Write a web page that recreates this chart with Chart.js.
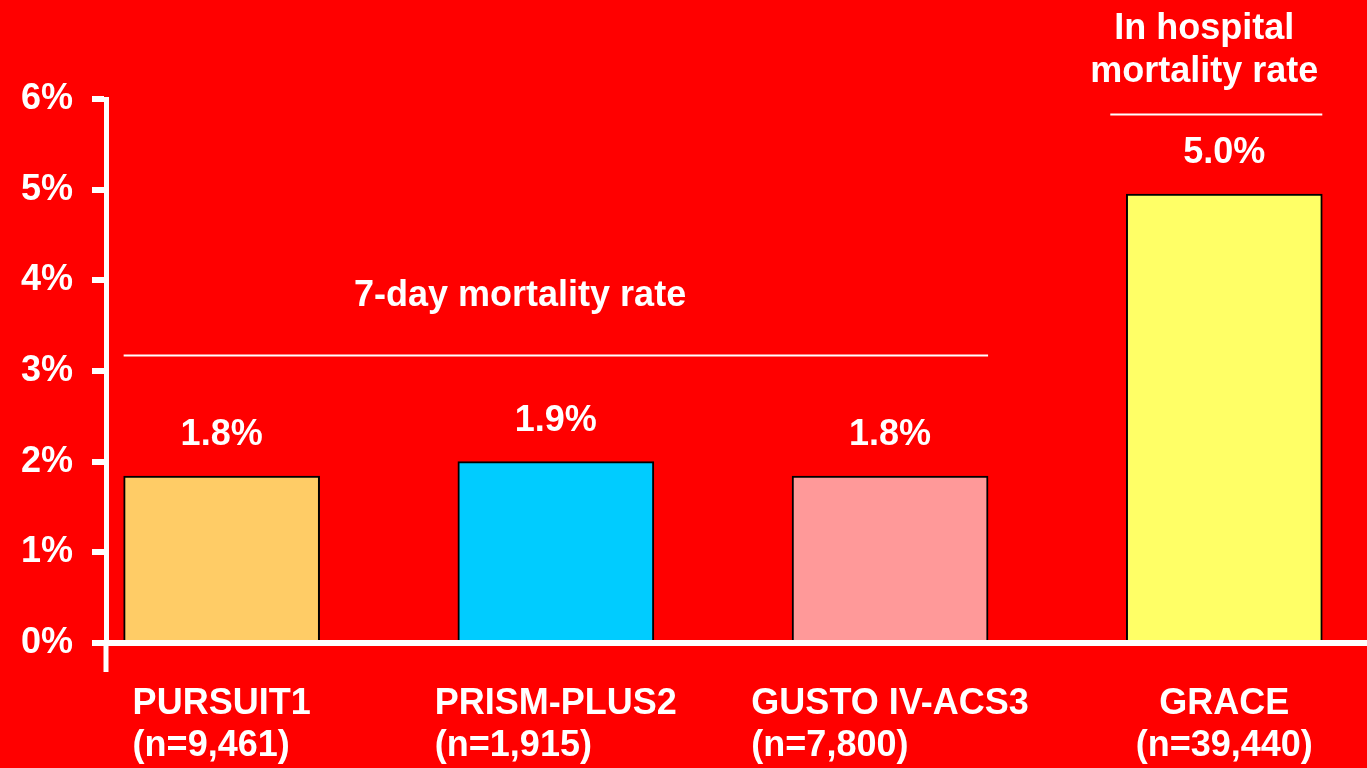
<!DOCTYPE html>
<html>
<head>
<meta charset="utf-8">
<script src="https://cdn.jsdelivr.net/npm/chart.js@4/dist/chart.umd.min.js"></script>
<style>
  html, body { margin: 0; padding: 0; background: #ff0000; }
  #wrap { width: 1367px; height: 768px; position: relative; }
</style>
</head>
<body>
<div id="wrap"><canvas id="mortalityChart"></canvas></div>
<script>
// study names and sample sizes (two-line category labels)
const studies = ['PURSUIT1', 'PRISM-PLUS2', 'GUSTO IV-ACS3', 'GRACE'];
const sampleSizes = ['(n=9,461)', '(n=1,915)', '(n=7,800)', '(n=39,440)'];
// bar heights as drawn (%)
const mortality = [1.84, 2.0, 1.84, 4.95];
// printed value labels
const rateLabels = ['1.8%', '1.9%', '1.8%', '5.0%'];
// y axis tick values (%)
const yTicks = [0, 1, 2, 3, 4, 5, 6];

const barColors = ['#ffcc66', '#00ccff', '#ff9999', '#ffff66'];
const FONT = "bold 36px 'Liberation Sans', Arial, sans-serif";
const BAR_W = 196;

// group headers and their rules, placed in data units
const headers = [
    { lines: ['7-day mortality rate'], x: 0.893, y: 3.72 },
    { lines: ['In hospital', 'mortality rate'], x: 2.94, y: 6.66 }
];
const rules = [
    { from: 0, to: 2, y: 3.18, extendLeft: 0 },
    { from: 3, to: 3, y: 5.84, extendLeft: 16 }
];

const textPlugin = {
    id: 'slideText',
    afterDraw(chart) {
        const c = chart.ctx;
        const xs = chart.scales.x, ys = chart.scales.y;
        const area = chart.chartArea;
        c.save();
        c.fillStyle = '#fff';
        c.strokeStyle = '#fff';

        // y axis runs a bit below the baseline
        c.lineWidth = 5;
        c.beginPath();
        c.moveTo(area.left, area.bottom);
        c.lineTo(area.left, area.bottom + 29);
        c.stroke();

        // thin rules under the group headers
        c.lineWidth = 2;
        rules.forEach(function(r) {
            const x1 = xs.getPixelForValue(r.from) - BAR_W / 2 - r.extendLeft;
            const x2 = xs.getPixelForValue(r.to) + BAR_W / 2;
            const y = Math.round(ys.getPixelForValue(r.y)) + 0.5;
            c.beginPath();
            c.moveTo(x1, y);
            c.lineTo(x2, y);
            c.stroke();
        });

        c.font = FONT;
        c.textBaseline = 'alphabetic';

        headers.forEach(function(h) {
            c.textAlign = 'center';
            const x = xs.getPixelForValue(h.x);
            const y0 = ys.getPixelForValue(h.y);
            h.lines.forEach(function(t, k) {
                c.fillText(t, x, y0 + k * 43);
            });
        });

        // value labels above bars
        c.textAlign = 'center';
        mortality.forEach(function(v, i) {
            c.fillText(rateLabels[i], xs.getPixelForValue(i), ys.getPixelForValue(v) - 31);
        });

        // category labels: first line centred on bar, second line left aligned with it
        studies.forEach(function(name, i) {
            const cx = xs.getPixelForValue(i);
            const w1 = c.measureText(name).width;
            const w2 = c.measureText(sampleSizes[i]).width;
            c.textAlign = 'center';
            c.fillText(name, cx, 714);
            if (w2 < w1) {
                c.textAlign = 'left';
                c.fillText(sampleSizes[i], cx - w1 / 2, 756);
            } else {
                c.fillText(sampleSizes[i], cx, 756);
            }
        });
        c.restore();
    }
};

var ctx = document.getElementById('mortalityChart').getContext('2d');

var mortalityChart = new Chart(ctx, {
    type: 'bar',
    data: {
        datasets: [{
            data: mortality.map(function(v, i) { return { x: i, y: v }; }),
            backgroundColor: barColors,
            borderColor: '#000',
            borderWidth: 2,
            barThickness: BAR_W
        }]
    },
    options: {
        responsive: true,
        maintainAspectRatio: false,
        animation: false,
        layout: { padding: { top: 99, left: 0, right: 0, bottom: 0 } },
        plugins: { legend: { display: false }, tooltip: { enabled: false } },
        scales: {
            x: {
                type: 'linear',
                offset: false,
                min: -0.346,
                max: 3.427,
                z: 1,
                ticks: { display: false },
                grid: { display: false },
                border: { display: true, color: '#fff', width: 6 },
                afterFit: function(scale) { scale.height = 125; }
            },
            y: {
                min: 0,
                max: 6,
                z: 1,
                afterBuildTicks: function(scale) {
                    scale.ticks = yTicks.map(function(v) { return { value: v }; });
                },
                ticks: {
                    color: '#fff',
                    font: { family: "'Liberation Sans', Arial, sans-serif", size: 36, weight: 'bold' },
                    padding: 19,
                    callback: function(v) { return v + '%'; }
                },
                grid: {
                    drawOnChartArea: false,
                    drawTicks: true,
                    tickLength: 14,
                    lineWidth: 6,
                    color: '#fff'
                },
                border: { display: true, color: '#fff', width: 5 },
                afterFit: function(scale) { scale.width = 106; }
            }
        }
    },
    plugins: [textPlugin]
});
</script>
</body>
</html>
